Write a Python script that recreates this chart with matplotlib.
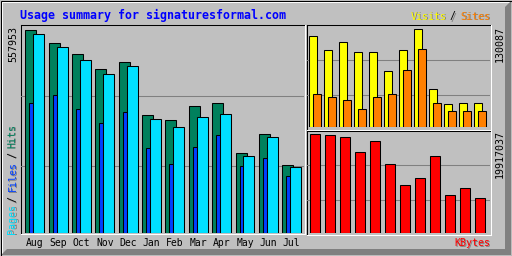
"""
Webalizer-style usage summary (12 months) for signaturesformal.com
"""

import matplotlib
matplotlib.use("Agg")
import matplotlib.pyplot as plt
from matplotlib.patches import Polygon, Rectangle

W, H = 512, 256

# ── Data ─────────────────────────────────────────────────────────
months = ["Aug", "Sep", "Oct", "Nov", "Dec", "Jan",
          "Feb", "Mar", "Apr", "May", "Jun", "Jul"]
hits = [557953, 521400, 489250, 449940, 469180, 323510,
        309770, 348240, 356480, 219060, 271290, 186080]
files = [356480, 378470, 339990, 301510, 331750, 232800,
         188830, 235550, 268530, 183330, 205320, 155850]
pages = [546130, 508480, 474680, 436190, 458180, 312510,
         290520, 318010, 326250, 210810, 263040, 180580]
visits = [120800, 102210, 112830, 99560, 99560, 74340,
          102210, 130087, 50440, 30530, 31860, 31860]
sites = [43800, 39820, 35840, 23890, 39820, 43800,
         75660, 103540, 31860, 21240, 21240, 21240]
kbytes = [19917037, 19850000, 19310000, 16274000, 18501000, 13845000,
          9594000, 11011000, 15464000, 7570000, 8987000, 6963000]

# ── Farger ───────────────────────────────────────────────────────
BG = "#C0C0C0"
DARK = "#808080"
C_HITS = "#00805C"
C_FILES = "#0040FF"
C_PAGES = "#00E0FF"
C_VISITS = "#FFFF00"
C_SITES = "#FF8000"
C_KB = "#FF0000"
C_TITLE = "#0000FF"
MONO = "DejaVu Sans Mono"
LW = 0.75

fig = plt.figure(figsize=(W / 100, H / 100), dpi=100)
fig.patch.set_facecolor(BG)

bg = fig.add_axes([0, 0, 1, 1])
bg.set_xlim(0, W)
bg.set_ylim(H, 0)
bg.axis("off")

# ── Ytre ramme (3D-effekt) ───────────────────────────────────────
bg.add_patch(Polygon([(W - 1, 1), (W - 1, H - 1), (1, H - 1), (7, H - 7),
                      (W - 7, H - 7), (W - 7, 7)], closed=True,
                     facecolor=DARK, edgecolor="none"))
bg.add_patch(Polygon([(1, 1), (W - 1, 1), (W - 3, 3), (3, 3), (3, H - 3),
                      (1, H - 1)], closed=True, facecolor="white",
                     edgecolor="none"))
bg.add_patch(Rectangle((0.5, 0.5), W - 1, H - 1, fill=False,
                       edgecolor="black", linewidth=LW))


def frame(x0, y0, x1, y1):
    bg.plot([x0, x1], [y0, y0], color="black", lw=LW)
    bg.plot([x0, x0], [y0, y1], color="black", lw=LW)
    bg.plot([x0, x1 + 0.5], [y1, y1], color="white", lw=LW)
    bg.plot([x1, x1], [y0, y1], color="white", lw=LW)


frame(20.5, 24.5, 304.5, 233.5)
frame(306.5, 24.5, 490.5, 129.5)
frame(306.5, 130.5, 490.5, 234.5)


def px_axes(x0, y0, x1, y1):
    ax = fig.add_axes([x0 / W, 1 - y1 / H, (x1 - x0) / W, (y1 - y0) / H])
    ax.axis("off")
    ax.set_facecolor("none")
    return ax


def grid(ax, fracs):
    for f in fracs:
        ax.plot([0, 1], [f, f], transform=ax.transAxes, color=DARK,
                lw=LW, zorder=0)


# ── Hovudgraf: hits / files / pages ──────────────────────────────
ax1 = px_axes(21, 25, 304, 232.5)
ax1.set_xlim(-0.184, 11.93)
ax1.set_ylim(0, max(hits) * 207.5 / 203)
grid(ax1, [0.660, 0.322])
xs = range(len(months))
ax1.bar([i for i in xs], hits, width=0.47, align="edge", color=C_HITS,
        edgecolor="black", linewidth=LW, zorder=2)
ax1.bar([i + 0.17 for i in xs], files, width=0.17, align="edge",
        color=C_FILES, edgecolor="black", linewidth=LW, zorder=3)
ax1.bar([i + 0.34 for i in xs], pages, width=0.47, align="edge",
        color=C_PAGES, edgecolor="black", linewidth=LW, zorder=4)
for i, m in enumerate(months):
    ax1.text(i + 0.405, -0.053, m, transform=ax1.get_xaxis_transform(),
             ha="center", va="center", fontsize=7, family=MONO,
             color="black")

# ── Visits / Sites ───────────────────────────────────────────────
ax2 = px_axes(307, 25, 490, 127.3)
ax2.set_xlim((307 - 309) / 15, (490 - 309) / 15)
ax2.set_ylim(0, max(visits) * 102.3 / 98)
grid(ax2, [0.655, 0.313])
ax2.bar([i for i in xs], visits, width=0.52, align="edge", color=C_VISITS,
        edgecolor="black", linewidth=LW, zorder=2)
ax2.bar([i + 0.25 for i in xs], sites, width=0.53, align="edge",
        color=C_SITES, edgecolor="black", linewidth=LW, zorder=3)

# ── KBytes ───────────────────────────────────────────────────────
ax3 = px_axes(307, 131, 490, 232.7)
ax3.set_xlim((307 - 310.3) / 15, (490 - 310.3) / 15)
ax3.set_ylim(0, max(kbytes) * 101.7 / 98.4)
grid(ax3, [0.663, 0.319])
ax3.bar([i for i in xs], kbytes, width=0.62, align="edge", color=C_KB,
        edgecolor="black", linewidth=LW, zorder=2)

# ── Tekst ────────────────────────────────────────────────────────
bg.text(20, 15, "Usage summary for signaturesformal.com", color=C_TITLE,
        fontsize=8.4, family=MONO, fontweight="bold", ha="left",
        va="center")

bg.text(13, 26.5, f"{max(hits)}", rotation=90, ha="center", va="top",
        fontsize=7.2, family=MONO, color="black")
bg.text(500, 26.5, f"{max(visits)}", rotation=90, ha="center", va="top",
        fontsize=7.2, family=MONO, color="black")
bg.text(500, 130.5, f"{max(kbytes)}", rotation=90, ha="center", va="top",
        fontsize=7.2, family=MONO, color="black")


def shadow_text(x, y, s, color, **kw):
    bg.text(x + 1, y + 1, s, color=DARK, family=MONO, **kw)
    bg.text(x, y, s, color=color, family=MONO, **kw)


# venstre forklaring (rotert)
for s, yc, c in [("Pages", 218.5, C_PAGES), ("/", 199, "black"),
                 ("Files", 176, C_FILES), ("/", 154.5, "black"),
                 ("Hits", 135.5, C_HITS)]:
    shadow_text(12.5, yc, s, c, rotation=90, ha="center", va="center",
                fontsize=7.2)

# høgre forklaringar
shadow_text(411, 16.5, "Visits", C_VISITS, ha="left", va="center",
            fontsize=7.2)
shadow_text(452.5, 16.5, "/", "black", ha="center", va="center",
            fontsize=7.2)
shadow_text(490, 16.5, "Sites", C_SITES, ha="right", va="center",
            fontsize=7.2)
shadow_text(490, 243, "KBytes", C_KB, ha="right", va="center",
            fontsize=7.2)

fig.savefig("out.png", dpi=100, facecolor=BG)
plt.close()
